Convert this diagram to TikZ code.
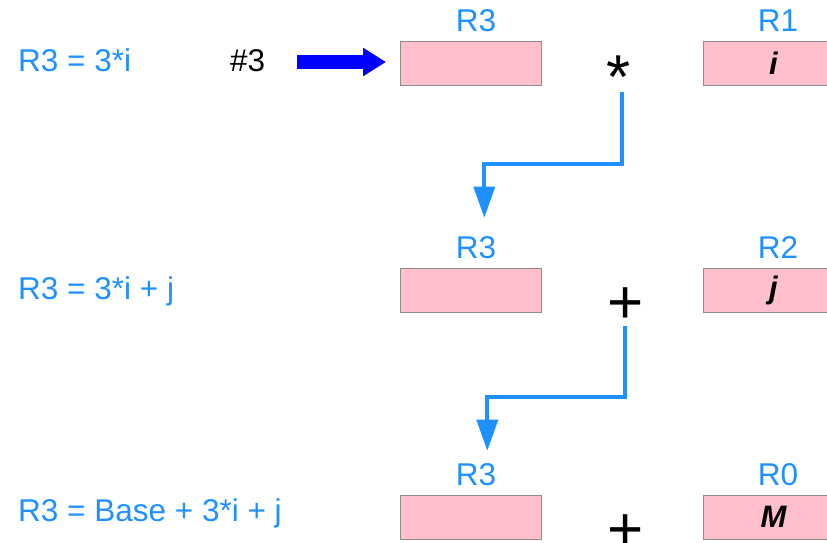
\documentclass[tikz,border=0pt]{standalone}
\usepackage{fontspec}
\setmainfont{Liberation Sans}
\usetikzlibrary{arrows.meta}
\definecolor{lblue}{HTML}{1E90FF}
\definecolor{pinkfill}{HTML}{FFC0CB}
\definecolor{boxgray}{HTML}{8C8C8C}
\begin{document}
\begin{tikzpicture}[x=1pt,y=-1pt,
  txt/.style={font=\fontsize{31.5}{37}\selectfont, inner sep=0pt},
  lbl/.style={txt, text=lblue, anchor=base},
  eq/.style={txt, text=lblue, anchor=base west},
  reg/.style={draw=boxgray, line width=1pt, fill=pinkfill, minimum width=141pt, minimum height=44pt, inner sep=0pt, font=\fontsize{31}{37}\selectfont\bfseries\itshape},
  op/.style={font=\fontsize{62}{70}\selectfont, inner sep=0pt, anchor=base},
  conn/.style={draw=lblue, line width=3.8pt, -{Triangle[length=31pt,width=21pt]}},
  bigarrow/.style={draw=blue, line width=14pt, -{Triangle[length=23pt,width=27pt]}}
]
\useasboundingbox (0,0) rectangle (827,542);
\clip (0,0) rectangle (827,542);

% row 1
\node[eq] (e1) at (18,71) {R3 = 3*i};
\node[txt, anchor=base west] (h3) at (230,71) {\#3};
\node[lbl] (l13) at (476,31.7) {R3};
\node[reg] (b13) at (471,63) {};
\node[op] (m1) at (619,98) {*};
\node[lbl] (l11) at (778,31.7) {R1};
\node[reg] (b11) at (773.5,63) {i};

% row 2
\node[eq] (e2) at (18,299.5) {R3 = 3*i + j};
\node[lbl] (l23) at (476,258.7) {R3};
\node[reg] (b23) at (471,290) {};
\node[op] (p2) at (625.7,323) {+};
\node[lbl] (l22) at (778,258.7) {R2};
\node[reg] (b22) at (773.5,290) {j};

% row 3
\node[eq] (e3) at (18,521.7) {R3 = Base + 3*i + j};
\node[lbl] (l33) at (476,485.7) {R3};
\node[reg] (b33) at (471,517) {};
\node[op] (p3) at (625.7,550) {+};
\node[lbl] (l30) at (778,485.7) {R0};
\node[reg] (b30) at (773.5,517) {M};

% arrows
\coordinate (bs) at (297,62);
\coordinate (be) at (386,62);
\draw[bigarrow] (bs) -- (be);

\coordinate (c1s) at (621.7,91.7);
\coordinate (c1e) at (484.3,217.7);
\draw[conn] (c1s) -- ++(0,72) -| (c1e);

\coordinate (c2s) at (625,326);
\coordinate (c2e) at (487.3,450.7);
\draw[conn] (c2s) -- ++(0,70.7) -| (c2e);
\end{tikzpicture}
\end{document}
